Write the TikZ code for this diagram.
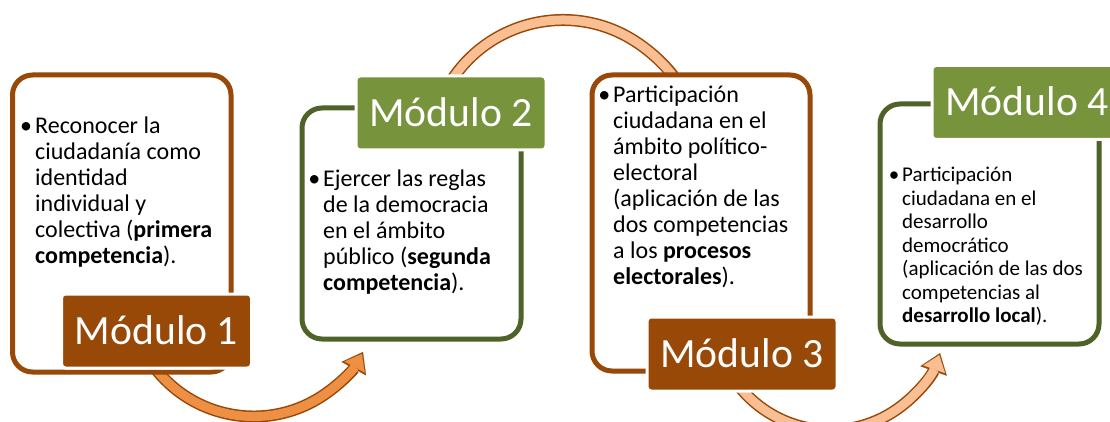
\documentclass[tikz,border=0pt]{standalone}
\usepackage{fontspec}
\setmainfont{Carlito}
\usetikzlibrary{arrows.meta}

\definecolor{modbrown}{HTML}{984807}
\definecolor{modgreen}{HTML}{77933C}
\definecolor{darkgreen}{HTML}{4F6228}
\definecolor{arroworange}{HTML}{EE9043}
\definecolor{arrowpeach}{HTML}{F9BE91}

% bullet item, one line per row
\newcommand{\bulletlines}[1]{\llap{\textbullet\hspace{3pt}}\begin{tabular}[t]{@{}l@{}}#1\end{tabular}}

\tikzset{
    modbox/.style={line width=5pt, rounded corners=20pt, fill=white},
    brownbox/.style={modbox, draw=modbrown},
    greenbox/.style={modbox, draw=darkgreen},
    modlabel/.style={draw=white, line width=3pt, rounded corners=4pt, text=white,
        minimum width=190pt, minimum height=74pt, text height=27pt, text depth=0pt,
        font=\fontsize{41.6}{50}\selectfont},
    brownlabel/.style={modlabel, fill=modbrown},
    greenlabel/.style={modlabel, fill=modgreen},
    bodytext/.style={anchor=base west, inner sep=0pt, font=\fontsize{24}{26}\selectfont},
    smalltext/.style={bodytext, font=\fontsize{21}{23.5}\selectfont},
    arrowout/.style={draw=modbrown, line width=12pt,
        -{Triangle[length=19pt, width=28pt, line width=0.1pt]}},
    arrowin/.style={line width=9pt, shorten >=2.2pt,
        -{Triangle[length=15pt, width=23pt, line width=0.1pt]}}
}

\begin{document}
\begin{tikzpicture}[x=1pt, y=-1pt]
    \path[use as bounding box, fill=white] (0,0) rectangle (1110,422);

    % curved arrows between the modules
    \coordinate (turn1) at (253.7,291.7);
    \coordinate (turn2) at (563,153);
    \coordinate (turn3) at (830.3,313.6);
    \foreach \c/\sa/\ea/\r/\col in {turn1/148/28.9/124.8/arroworange,
                                    turn2/210/338/133/arrowpeach,
                                    turn3/145/19.8/116.6/arrowpeach} {
        \draw[arrowout] (\c) ++(\sa:\r) arc[start angle=\sa, end angle=\ea, radius=\r];
        \draw[arrowin, draw=\col] (\c) ++(\sa:\r) arc[start angle=\sa, end angle=\ea, radius=\r];
    }

    % boxes
    \node[brownbox, minimum width=218.5pt, minimum height=297pt] (box1) at (121.75,223.5) {};
    \node[greenbox, minimum width=219pt, minimum height=231pt] (box2) at (411.5,223.5) {};
    \node[brownbox, minimum width=218pt, minimum height=296pt] (box3) at (701,223) {};
    \node[greenbox, minimum width=219pt, minimum height=240pt] (box4) at (989.5,224) {};

    % module labels
    \node[brownlabel] (mod1) at (156.5,331) {Módulo 1};
    \node[greenlabel] (mod2) at (451,113) {Módulo 2};
    \node[brownlabel] (mod3) at (742,354) {Módulo 3};
    \node[greenlabel] (mod4) at (1027,102.5) {Módulo 4};

    % texts
    \node[bodytext] (text1) at (35,134) {\bulletlines{Reconocer la\\ ciudadanía como\\ identidad\\ individual y\\
        colectiva (\textbf{primera}\\ \textbf{competencia}).}};
    \node[bodytext] (text2) at (323,186) {\bulletlines{Ejercer las reglas\\ de la democracia\\ en el ámbito\\
        público (\textbf{segunda}\\ \textbf{competencia}).}};
    \node[bodytext] (text3) at (613,103) {\bulletlines{Participación\\ ciudadana en el\\ ámbito político-\\ electoral\\
        (aplicación de las\\ dos competencias\\ a los \textbf{procesos}\\ \textbf{electorales}).}};
    \node[smalltext] (text4) at (902,182) {\bulletlines{Participación\\ ciudadana en el\\ desarrollo\\ democrático\\
        (aplicación de las dos\\ competencias al\\ \textbf{desarrollo local}).}};
\end{tikzpicture}
\end{document}
